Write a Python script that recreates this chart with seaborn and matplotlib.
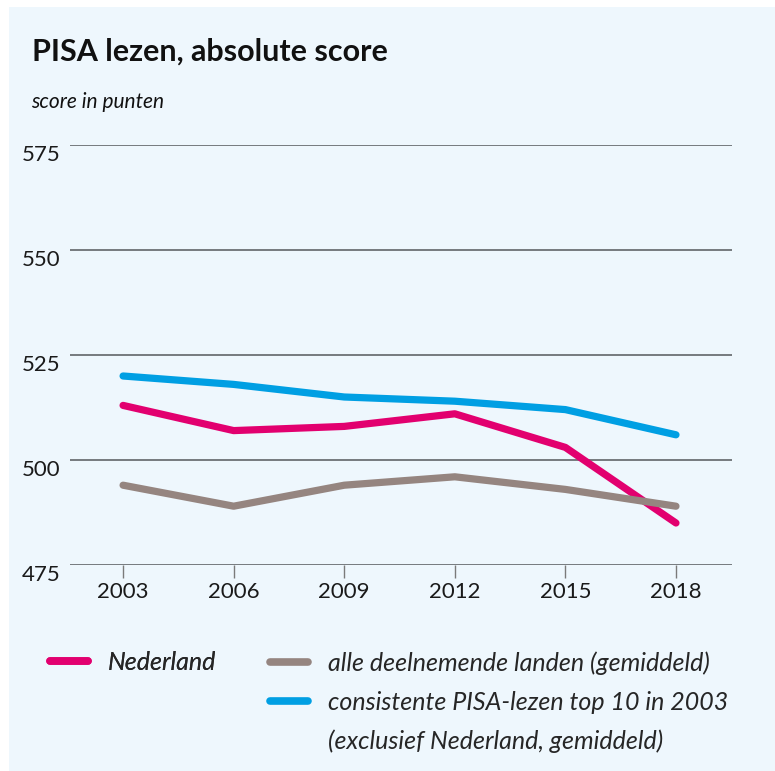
import matplotlib
matplotlib.use("Agg")
import matplotlib.pyplot as plt
import matplotlib.patches as mpatches
from matplotlib.lines import Line2D
import pandas as pd
import seaborn as sns

# data
years = [2003, 2006, 2009, 2012, 2015, 2018]
nederland = [513, 507, 508, 511, 503, 485]
alle_landen = [494, 489, 494, 496, 493, 489]
top10 = [520, 518, 515, 514, 512, 506]

series_names = [
    "Nederland",
    "alle deelnemende landen (gemiddeld)",
    "consistente PISA-lezen top 10 in 2003",
]
top10_note = "(exclusief Nederland, gemiddeld)"
series_values = [nederland, alle_landen, top10]
colors = ["#E2006F", "#958580", "#009FE3"]
y_ticks = [475, 500, 525, 550, 575]

df = pd.DataFrame(
    [
        {"jaar": y, "score": v, "reeks": name}
        for name, vals in zip(series_names, series_values)
        for y, v in zip(years, vals)
    ]
)

sns.set_style("white")
plt.rcParams["font.family"] = ["Lato", "DejaVu Sans"]

BG = "#EEF7FD"
fig = plt.figure(figsize=(7.75, 7.71), dpi=100)
fig.patch.set_facecolor("white")
fig.patches.append(
    mpatches.Rectangle((9 / 775, 0), 1, 1 - 7 / 771, transform=fig.transFigure,
                       facecolor=BG, edgecolor="none", zorder=-10)
)

ax = fig.add_axes([70 / 775, 1 - 565 / 771, 662 / 775, 420 / 771])
ax.patch.set_alpha(0)

sns.lineplot(
    data=df, x="jaar", y="score", hue="reeks", hue_order=series_names,
    palette=dict(zip(series_names, colors)), linewidth=5.2,
    solid_capstyle="round", solid_joinstyle="round", ax=ax, legend=True,
)

ax.set_xlim(2001.56, 2019.52)
ax.set_ylim(475, 575)
ax.set_yticks(y_ticks)
ax.set_xticks(years)
ax.yaxis.grid(True, color="#55595c", linewidth=1.1)
ax.set_axisbelow(True)
for s in ax.spines.values():
    s.set_visible(False)
ax.tick_params(axis="y", length=0, pad=7, labelsize=16, labelcolor="#1a1a1a")
ax.tick_params(axis="x", length=9, width=1, color="#7a7a7a", pad=3,
               labelsize=16, labelcolor="#1a1a1a", bottom=True)
for lbl in ax.get_yticklabels():
    lbl.set_verticalalignment("top")
ax.set_xlabel("")
ax.set_ylabel("")

# legend split into two blocks like the reference
handles, labels = ax.get_legend_handles_labels()
ax.get_legend().remove()
blank = Line2D([], [], color="none")
leg_kw = dict(frameon=False, handlelength=1.5, handletextpad=0.8,
              prop={"style": "italic", "size": 18}, labelspacing=0.64,
              borderpad=0, borderaxespad=0)
leg1 = fig.legend(handles[:1], labels[:1], loc="upper left",
                  bbox_to_anchor=(50 / 775, 1 - 651 / 771), **leg_kw)
fig.add_artist(leg1)
fig.legend(handles[1:] + [blank], labels[1:] + [top10_note], loc="upper left",
           bbox_to_anchor=(270 / 775, 1 - 651 / 771), **leg_kw)
for leg in fig.legends:
    for line in leg.get_lines():
        line.set_linewidth(5.5)
        line.set_solid_capstyle("round")

fig.text(32 / 775, 1 - 61 / 771, "PISA lezen, absolute score",
         fontsize=22, fontweight="bold", color="#111111", va="baseline")
fig.text(31 / 775, 1 - 108 / 771, "score in punten",
         fontsize=15, style="italic", color="#111111", va="baseline")

fig.savefig("out.png", dpi=100, facecolor=fig.get_facecolor())
